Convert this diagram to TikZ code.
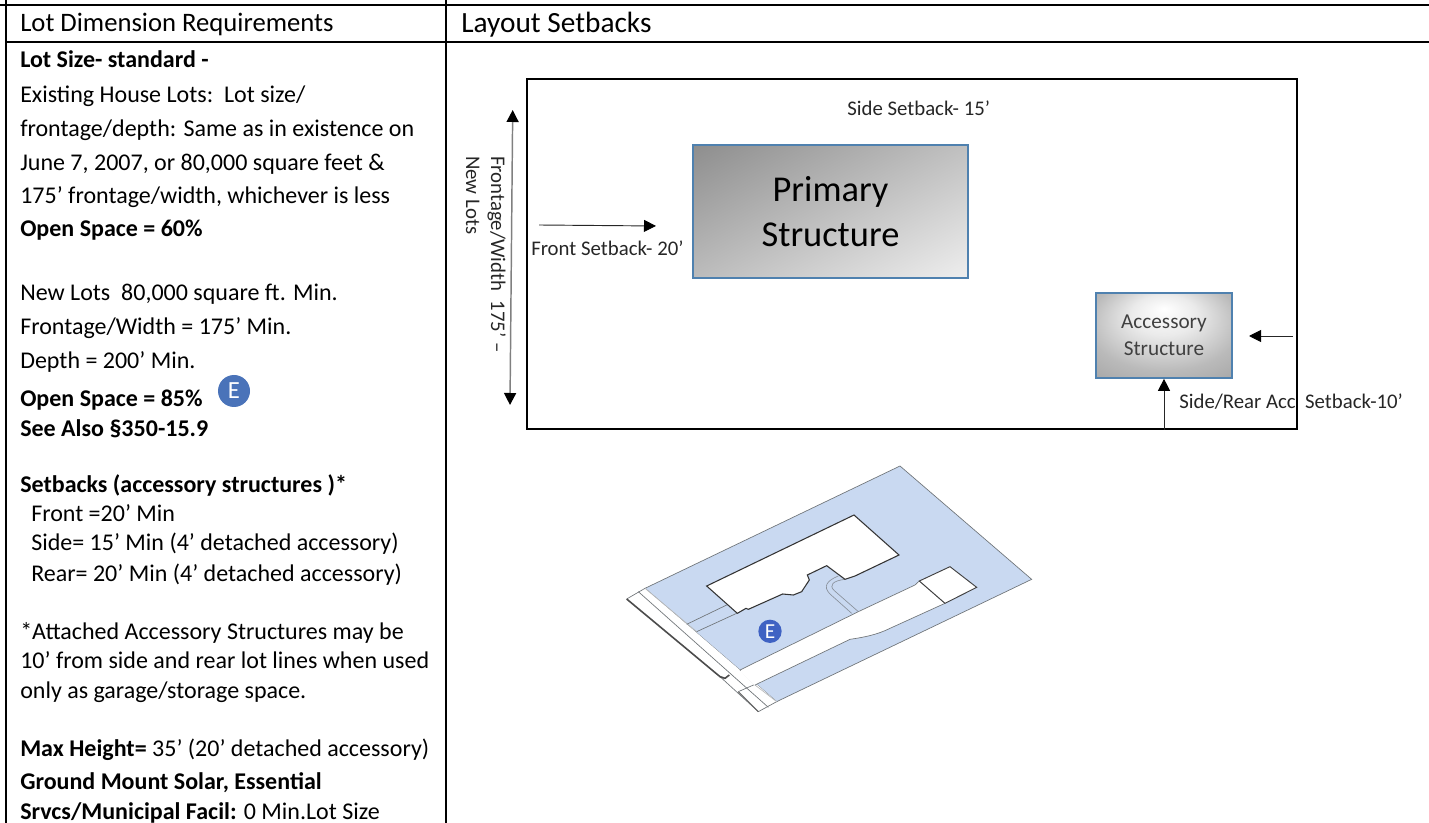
\documentclass[tikz,border=0pt]{standalone}
\usepackage{fontspec}
\setmainfont{Carlito}
\usetikzlibrary{arrows.meta, positioning}
\definecolor{lotblue}{HTML}{C9D9F1}
\definecolor{edgeblue}{HTML}{4F81AF}
\definecolor{badgeblue}{HTML}{4A73B9}
\definecolor{planline}{HTML}{6F7478}
\pgfdeclareradialshading{accshade}{\pgfpoint{0bp}{16bp}}{color(0bp)=(white); color(12bp)=(white!92!black); color(28bp)=(black!27); color(50bp)=(black!42)}
\pgfdeclarehorizontalshading{primshade}{100bp}{color(0bp)=(black!45); color(15bp)=(black!45); color(85bp)=(black!6); color(100bp)=(black!6)}

\begin{document}
\begin{tikzpicture}[x=0.75pt,y=-0.75pt,
 body/.style={anchor=base west,inner sep=0pt,font=\fontsize{18}{20}\selectfont},
 bold line/.style={body,font=\fontsize{18}{20}\selectfont\bfseries},
 small label/.style={inner sep=0pt,font=\fontsize{15.6}{18}\selectfont,text=black!85},
 struct box/.style={draw=edgeblue,line width=1.5pt},
 struct name/.style={anchor=base,inner sep=0pt},
 dim arrow/.style={draw=black!50,line width=1.1pt,{Triangle[length=9pt,width=9pt,black]}-{Triangle[length=9pt,width=9pt,black]}},
 tip arrow/.style={draw=black!85,line width=0.7pt,-{Triangle[length=9pt,width=9pt,black]}},
 badge/.style={circle,fill=badgeblue,text=white,inner sep=0pt},
 plan edge/.style={draw=planline,line width=0.5pt}]
 \useasboundingbox (0,0) rectangle (1429,823);

 % table rules
 \draw[line width=1.5pt] (5.5,0) -- (5.5,823) (446,0) -- (446,823)
   (0,5) -- (1429,5) (5.5,42) -- (1429,42);

 % left column
 \node[body,font=\fontsize{20}{22}\selectfont] (head1) at (20,32) {Lot Dimension Requirements};
 \node[body,font=\fontsize{22}{24}\selectfont] (head2) at (461,33) {Layout Setbacks};
 \foreach \y/\t in {103/{Existing House Lots:\ \ Lot size/}, 137/{frontage/depth: Same as in existence on},
   171/{June 7, 2007, or 80,000 square feet \&}, 204/{175’ frontage/width, whichever is less},
   301/{New Lots\ \ 80,000 square ft. Min.}, 335/{Frontage/Width = 175’ Min.}, 369/{Depth = 200’ Min.},
   639/{*Attached Accessory Structures may be}, 668/{10’ from side and rear lot lines when used},
   698/{only as garage/storage space.}} {
  \node[body] (line\y) at (20,\y) {\t};}
 \foreach \y/\t in {68/{Lot Size- standard -}, 237/{Open Space = 60\%}, 407/{Open Space = 85\%},
   437/{See Also §350-15.9}, 493/{Setbacks (accessory structures )*}, 789/{Ground Mount Solar, Essential}} {
  \node[bold line] (line\y) at (20,\y) {\t};}
 \foreach \y/\t in {522/{Front =20’ Min}, 551/{Side= 15’ Min (4’ detached accessory)}, 581/{Rear= 20’ Min (4’ detached accessory)}} {
  \node[body] (line\y) at (31,\y) {\t};}
 \node[body] (line756) at (20,756) {\textbf{Max Height=} 35’ (20’ detached accessory)};
 \node[body] (line819) at (20,819) {\textbf{Srvcs/Municipal Facil:} 0 Min.Lot Size};
 \node[badge,minimum size=24pt,font=\fontsize{18.5}{18.5}\selectfont] (badge1) at (234,391) {E};

 % setback sketch
 \node[draw,line width=1.5pt,minimum width=577.5pt,minimum height=262.5pt] (lot) at (912,254) {};
 \node[struct box,minimum width=206pt,minimum height=99.5pt,shading=primshade,shading angle=-62] (primary) at (830.5,211.5) {};
 \node[struct box,minimum width=102pt,minimum height=63.5pt,shading=accshade] (accessory) at (1164,335.5) {};
 \foreach \n/\y/\t in {a/202/Primary, b/246.5/Structure} {
  \node[struct name,font=\fontsize{27.3}{33}\selectfont] (primary\n) at (830.5,\y) {\t};}
 \foreach \n/\y/\t in {a/329/Accessory, b/355.5/Structure} {
  \node[struct name,text=black!75,font=\fontsize{15.9}{19.5}\selectfont] (accessory\n) at (1164,\y) {\t};}

 \coordinate (dimtop) at (512.7,110);
 \coordinate (dimbottom) at (510,405);
 \coordinate (fronttail) at (539,225);
 \coordinate (fronthead) at (656,226);
 \coordinate (sidetail) at (1293,336);
 \coordinate (sidehead) at (1249,336);
 \coordinate (reartail) at (accessory.south |- lot.south);
 \path[dim arrow] (dimbottom) -- (dimtop);
 \path[tip arrow] (fronttail) -- (fronthead);
 \path[tip arrow] (sidetail) -- (sidehead);
 \path[tip arrow] (reartail) -- (accessory.south);

 \node[small label,anchor=base west] (sidelabel) at (847,116) {Side Setback- 15’};
 \node[small label,anchor=base west] (frontlabel) at (531,256) {Front Setback- 20’};
 \node[small label,anchor=base west] (rearlabel) at (1179,409) {Side/Rear Acc\ \ Setback-10’};
 \node[small label,anchor=base west,rotate=-90] (widthlabel) at (491,156) {Frontage/Width\ \ 175’ –};
 \node[small label,anchor=base west,rotate=-90] (newlabel) at (466,156) {New Lots};

 % lot plan, in steps of a third of a pixel
 \begin{scope}[shift={(600,450)},x=0.25pt,y=-0.25pt]
  \path[plan edge,fill=lotblue] (135,415) -- (900,48) -- (1295,388) -- (530,755) -- cycle;
  % road strip
  \fill[white] (80,447) -- (135,415) -- (530,755) -- (475,785) -- cycle;
  \path[plan edge] (80,447) -- (135,415) (475,785) -- (530,755) (360,680) -- (475,785);
  \path[plan edge,draw=planline!50!white] (135,415) -- (290,545) (465,705) -- (530,755);
  \path[plan edge] (115,425) -- (505,772);
  \draw[black!70,line width=1.2pt] (80,447) -- (360,680) -- (375,685) -- (388,675);
  \path[plan edge,draw=black!60,line width=0.8pt] (415,725) -- (475,785);
  \path[plan edge] (415,725) -- (465,703);
  % drive
  \path[plan edge,fill=white] (420,660) -- (775,485) -- (945,405) -- (958,393) -- (1035,460)
    -- (870,535) .. controls (830,555) and (790,562) .. (750,568) -- (465,705) -- cycle;
  \draw[white,line width=1.5pt] (422,662) -- (465,703);
  % garage
  \path[plan edge,draw=black!75,line width=0.7pt,fill=white] (958,393) -- (1050,350) -- (1130,412) -- (1035,460) -- cycle;
  % walks
  \path[plan edge] (260,523) -- (380,465) (290,545) -- (410,490);
  \path[plan edge,draw=planline!70!lotblue] (755,490) -- (690,432) .. controls (668,410) and (680,392) .. (715,378);
  \path[plan edge,draw=planline!70!lotblue] (775,485) -- (703,422) .. controls (685,405) and (700,392) .. (735,388);
  % house
  \path[plan edge,draw=black!80,line width=0.8pt,fill=white] (320,408) -- (762,195) -- (897,315) -- (765,378) -- (735,388)
    -- (680,347) -- (622,375) -- (628,390) -- (605,425) -- (580,435) -- (548,432) -- (445,478) -- (438,475) -- (412,490) -- cycle;
  \node[badge,fill=badgeblue!85!blue,minimum size=17.5pt,font=\fontsize{16}{16}\selectfont] (badge2) at (510,544) {E};
 \end{scope}
\end{tikzpicture}
\end{document}
